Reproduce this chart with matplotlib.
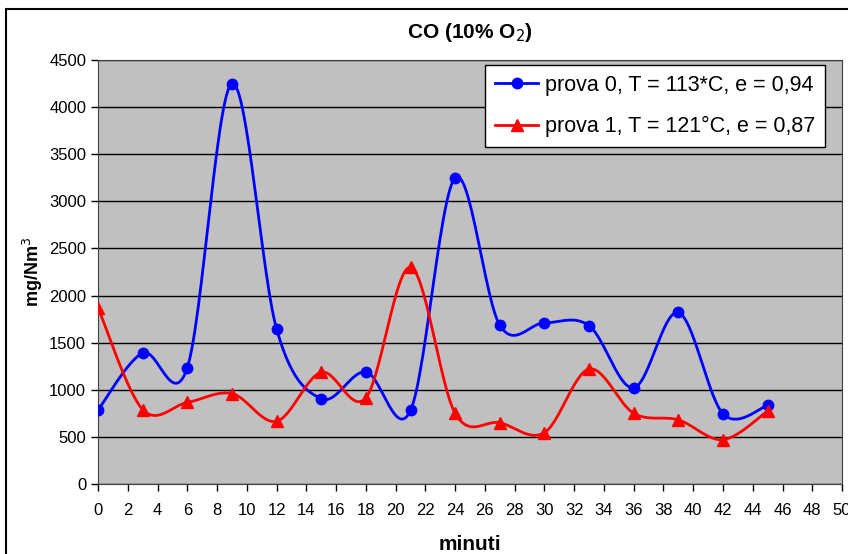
#!/usr/bin/env python3
import matplotlib
matplotlib.use("Agg")
import matplotlib.pyplot as plt
import numpy as np

minutes = [0, 3, 6, 9, 12, 15, 18, 21, 24, 27, 30, 33, 36, 39, 42, 45]
prova0 = [785, 1390, 1235, 4250, 1645, 905, 1190, 780, 3250, 1685, 1710, 1680, 1020, 1820, 745, 835]
prova1 = [1870, 790, 865, 960, 665, 1185, 915, 2300, 750, 650, 545, 1220, 750, 680, 470, 775]

label0 = "prova 0, T = 113*C, e = 0,94"
label1 = "prova 1, T = 121°C, e = 0,87"


def smooth(xs, ys, n=30):
    # Excel-style smoothed line (Catmull-Rom as cubic Bezier)
    x = np.asarray(xs, float)
    y = np.asarray(ys, float)
    px = np.concatenate([[x[0]], x, [x[-1]]])
    py = np.concatenate([[y[0]], y, [y[-1]]])
    t = np.linspace(0, 1, n)[:, None]
    outx, outy = [], []
    for i in range(1, len(px) - 2):
        p0 = np.array([px[i], py[i]])
        p3 = np.array([px[i + 1], py[i + 1]])
        p1 = p0 + (np.array([px[i + 1], py[i + 1]]) - np.array([px[i - 1], py[i - 1]])) / 6
        p2 = p3 - (np.array([px[i + 2], py[i + 2]]) - np.array([px[i], py[i]])) / 6
        pts = ((1 - t) ** 3) * p0 + 3 * ((1 - t) ** 2) * t * p1 + 3 * (1 - t) * t ** 2 * p2 + t ** 3 * p3
        outx.extend(pts[:, 0])
        outy.extend(pts[:, 1])
    return outx, outy


def plot_chart() -> None:
    plt.rcParams["font.family"] = ["Liberation Sans", "DejaVu Sans"]
    fig = plt.figure(figsize=(8.48, 5.54), dpi=100)
    ax = fig.add_axes([0.1156, 0.1264, 0.8774, 0.7653])
    ax.set_facecolor("#c0c0c0")

    # figure border
    fig.patches.append(plt.Rectangle((6 / 848, -0.1), 1.2, (554 - 9) / 554 + 0.1,
                                     transform=fig.transFigure, fill=False,
                                     edgecolor="black", linewidth=1.5))

    sx, sy = smooth(minutes, prova0)
    ax.plot(sx, sy, color="#0000ff", lw=2, zorder=3)
    ax.plot(minutes, prova0, "o", color="#0000ff", ms=7.5, zorder=4)
    sx, sy = smooth(minutes, prova1)
    ax.plot(sx, sy, color="#ff0000", lw=2, zorder=3)
    ax.plot(minutes, prova1, "^", color="#ff0000", ms=8.5, zorder=4)

    h0, = ax.plot([], [], "-o", color="#0000ff", lw=2, ms=7.5)
    h1, = ax.plot([], [], "-^", color="#ff0000", lw=2, ms=8.5)

    ax.set_xlim(0, 50)
    ax.set_ylim(0, 4500)
    ax.set_xticks(range(0, 51, 2))
    ax.set_yticks(range(0, 4501, 500))
    ax.yaxis.grid(True, color="black", lw=1)
    ax.set_axisbelow(True)
    ax.tick_params(direction="out", length=5, width=1, labelsize=12, color="black")
    ax.tick_params(axis="x", pad=9)
    for s in ax.spines.values():
        s.set_color("#404040")

    ax.set_title("CO (10% O$_2$)", fontsize=15, fontweight="bold", pad=16)
    ax.set_xlabel("minuti", fontsize=15, fontweight="bold", labelpad=12)
    ax.set_ylabel("mg/Nm$^{3}$", fontsize=13, fontweight="bold", labelpad=3)

    leg = ax.legend([h0, h1], [label0, label1], loc="upper right",
                    bbox_to_anchor=(0.991, 1.014), fontsize=15.5, fancybox=False,
                    framealpha=1, edgecolor="black", handlelength=2.0,
                    borderpad=0.45, labelspacing=0.95, handletextpad=0.3)
    leg.get_frame().set_linewidth(1)

    fig.savefig("out.png", dpi=100)
    plt.close(fig)


def main() -> None:
    plot_chart()


if __name__ == "__main__":
    main()
